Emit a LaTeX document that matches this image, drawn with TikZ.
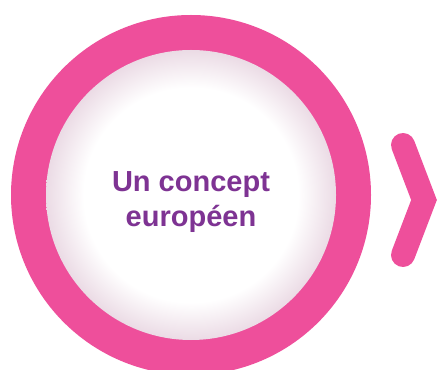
\documentclass[tikz,border=0pt]{standalone}
\usepackage{fontspec}
\setmainfont{Liberation Sans}
\usepackage{tikz}

\definecolor{ringpink}{HTML}{EE4F9B}
\definecolor{textpurple}{HTML}{7E3393}
\definecolor{glowedge}{HTML}{EBDBE5}
\pgfdeclareradialshading{innerglow}{\pgfpoint{0bp}{0bp}}{color(0bp)=(white); color(18.5bp)=(white); color(25bp)=(glowedge); color(50bp)=(glowedge)}

\begin{document}
\begin{tikzpicture}[x=1pt,y=1pt]
\tikzstyle{every node}+=[inner sep=0pt]
\useasboundingbox (0,0) rectangle (438,369);
\coordinate (hub) at (191,174);
\fill [ringpink] (hub) circle (180);
\shade [shading=innerglow] (hub) circle (145);
\node [text=textpurple, font=\bfseries\fontsize{29}{35}\selectfont, align=center] (title) at (191,167) {Un concept\\europ\'een};
\draw [ringpink, line width=24, line cap=round, line join=miter] (403,224) -- (424,169) -- (403,114);
\end{tikzpicture}
\end{document}
